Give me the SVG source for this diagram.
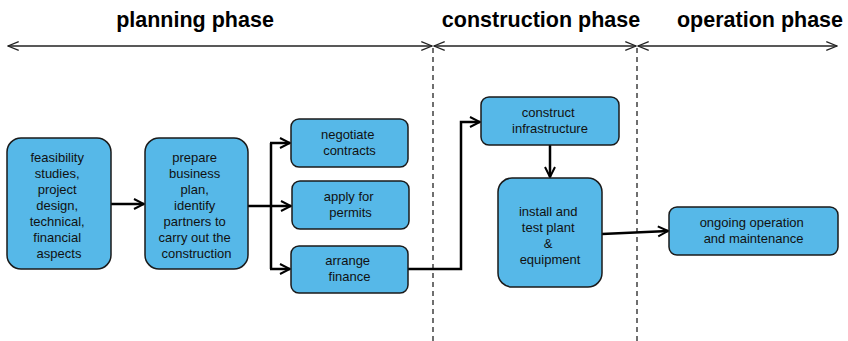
<svg xmlns="http://www.w3.org/2000/svg" width="848" height="341" viewBox="0 0 848 341">
  <defs>
    <marker id="head" viewBox="0 0 10 10" refX="9" refY="5" markerWidth="5" markerHeight="5" orient="auto-start-reverse" markerUnits="strokeWidth">
      <path d="M1,1 L9,5 L1,9" fill="none" stroke="#000" stroke-width="1.6"/>
    </marker>
    <marker id="span" viewBox="0 0 10 10" refX="9.5" refY="5" markerWidth="9" markerHeight="9" orient="auto-start-reverse" markerUnits="strokeWidth">
      <path d="M1,1.5 L9.5,5 L1,8.5" fill="none" stroke="#222" stroke-width="1"/>
    </marker>
    <style>
      .phase { font-family: "Liberation Sans", Arial, sans-serif; font-weight: bold; font-size: 21.5px; fill: #000; text-anchor: middle; }
      .span { stroke: #222; stroke-width: 1.4; fill: none; marker-start: url(#span); marker-end: url(#span); }
      .divider { stroke: #333; stroke-width: 1.4; stroke-dasharray: 5 4; fill: none; }
      .box { fill: #56b8e8; stroke: #1a1a1a; stroke-width: 1.5; }
      .label { font-family: "Liberation Sans", Arial, sans-serif; font-size: 13px; fill: #111; text-anchor: middle; }
      .link { stroke: #000; stroke-width: 2.5; fill: none; marker-end: url(#head); }
    </style>
  </defs>
  <rect width="848" height="341" fill="#fff"/>

  <!-- phase headings and spans -->
  <g id="phases">
    <text class="phase" x="195" y="27">planning phase</text>
    <text class="phase" x="541" y="27">construction phase</text>
    <text class="phase" x="760" y="27">operation phase</text>
    <line class="span" x1="8" y1="46" x2="432" y2="46"/>
    <line class="span" x1="434" y1="46" x2="636" y2="46"/>
    <line class="span" x1="638" y1="46" x2="837" y2="46"/>
    <line class="divider" x1="433" y1="48" x2="433" y2="341"/>
    <line class="divider" x1="637" y1="48" x2="637" y2="341"/>
  </g>

  <!-- connectors -->
  <g id="connectors">
    <line class="link" x1="111" y1="204" x2="144" y2="204"/>
    <line x1="248" y1="206" x2="271" y2="206" stroke="#000" stroke-width="2.5"/>
    <line x1="271" y1="143" x2="271" y2="269" stroke="#000" stroke-width="2.5"/>
    <polyline class="link" points="270,143 290,143"/>
    <polyline class="link" points="270,206 291,206"/>
    <polyline class="link" points="270,269 290,269"/>
    <polyline class="link" points="408,269 461,269 461,122 480,122"/>
    <line class="link" x1="550" y1="145" x2="550" y2="177"/>
    <line class="link" x1="602" y1="234" x2="668" y2="231"/>
  </g>

  <g id="feasibility">
    <rect class="box" x="7" y="138" width="104" height="131" rx="14"/>
    <text class="label" x="59" y="162">
      <tspan x="59" dy="0">feasibility</tspan>
      <tspan x="59" dy="16">studies,</tspan>
      <tspan x="59" dy="16">project</tspan>
      <tspan x="59" dy="16">design,</tspan>
      <tspan x="59" dy="16">technical,</tspan>
      <tspan x="59" dy="16">financial</tspan>
      <tspan x="59" dy="16">aspects</tspan>
    </text>
  </g>

  <g id="business-plan">
    <rect class="box" x="145" y="138" width="103" height="131" rx="14"/>
    <text class="label" x="196.5" y="162">
      <tspan x="196.5" dy="0">prepare</tspan>
      <tspan x="196.5" dy="16">business</tspan>
      <tspan x="196.5" dy="16">plan,</tspan>
      <tspan x="196.5" dy="16">identify</tspan>
      <tspan x="196.5" dy="16">partners to</tspan>
      <tspan x="196.5" dy="16">carry out the</tspan>
      <tspan x="196.5" dy="16">construction</tspan>
    </text>
  </g>

  <g id="negotiate">
    <rect class="box" x="291" y="119" width="117" height="48" rx="8"/>
    <text class="label" x="349.5" y="139">
      <tspan x="349.5" dy="0">negotiate</tspan>
      <tspan x="349.5" dy="16">contracts</tspan>
    </text>
  </g>

  <g id="permits">
    <rect class="box" x="292" y="181" width="117" height="48" rx="8"/>
    <text class="label" x="350.5" y="201">
      <tspan x="350.5" dy="0">apply for</tspan>
      <tspan x="350.5" dy="16">permits</tspan>
    </text>
  </g>

  <g id="finance">
    <rect class="box" x="291" y="246" width="117" height="47" rx="8"/>
    <text class="label" x="349.5" y="265">
      <tspan x="349.5" dy="0">arrange</tspan>
      <tspan x="349.5" dy="16">finance</tspan>
    </text>
  </g>

  <g id="infrastructure">
    <rect class="box" x="481" y="97" width="138" height="48" rx="8"/>
    <text class="label" x="550" y="117">
      <tspan x="550" dy="0">construct</tspan>
      <tspan x="550" dy="16">infrastructure</tspan>
    </text>
  </g>

  <g id="install">
    <rect class="box" x="498" y="178" width="104" height="109" rx="14"/>
    <text class="label" x="550" y="216">
      <tspan x="550" dy="0">install and</tspan>
      <tspan x="550" dy="16">test plant</tspan>
      <tspan x="550" dy="16">&amp;</tspan>
      <tspan x="550" dy="16">equipment</tspan>
    </text>
  </g>

  <g id="operation">
    <rect class="box" x="669" y="207" width="169" height="48" rx="8"/>
    <text class="label" x="753.5" y="227">
      <tspan x="753.5" dy="0">ongoing operation</tspan>
      <tspan x="753.5" dy="16">and maintenance</tspan>
    </text>
  </g>
</svg>
